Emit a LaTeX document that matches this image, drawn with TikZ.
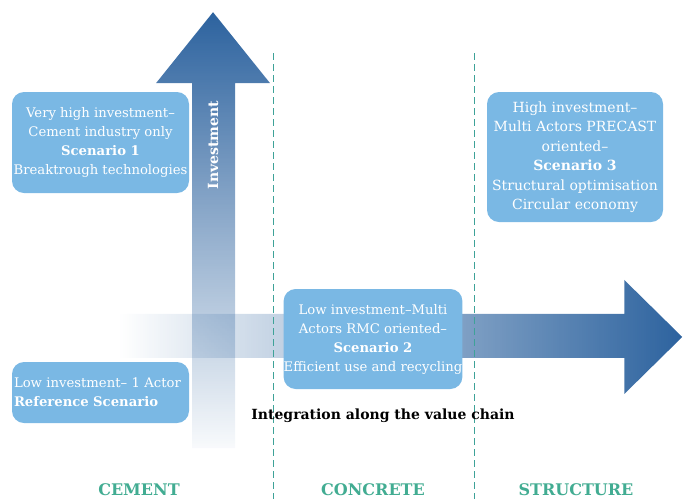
\documentclass[tikz,border=0pt]{standalone}
\usepackage{fontspec}
\setmainfont{DejaVu Serif}
\usetikzlibrary{fadings}
\usetikzlibrary{positioning}

\definecolor{boxblue}{RGB}{122,184,228}
\definecolor{arrowblue}{RGB}{44,98,158}
\definecolor{chainteal}{RGB}{66,172,146}
\definecolor{lineteal}{RGB}{62,162,152}

\tikzfading[name=fadeup,top color=transparent!0,middle color=transparent!30,bottom color=transparent!97]
\tikzfading[name=faderight,right color=transparent!0,middle color=transparent!45,left color=transparent!100]

\begin{document}
\begin{tikzpicture}[x=1pt,y=-1pt,
  scenbox/.style={fill=boxblue,text=white,rounded corners=12pt,inner sep=0pt,align=center,font=\fontsize{13.2}{19}\selectfont},
  column/.style={text=chainteal,font=\fontsize{16}{18}\selectfont\bfseries},
  divider/.style={lineteal,thin,dash pattern=on 7pt off 4pt}]
  \useasboundingbox (0,0) rectangle (683,499);
  %axes
  \fill[arrowblue,path fading=fadeup] (192,448) -- (192,83) -- (156,83) -- (213,12) -- (270,83) -- (235,83) -- (235,448) -- cycle;
  \fill[arrowblue,path fading=faderight] (120,314) -- (625,314) -- (625,280) -- (683,337) -- (625,394) -- (625,358) -- (120,358) -- cycle;
  %value chain dividers
  \coordinate (d1top) at (273,53);
  \coordinate (d1bot) at (273,499);
  \coordinate (d2top) at (474,53);
  \coordinate (d2bot) at (474,499);
  \draw[divider] (d1top) -- (d1bot);
  \draw[divider] (d2top) -- (d2bot);
  %scenarios
  \node[scenbox,minimum width=177pt,minimum height=101pt] (scen1) at (100.5,142.5) {Very high investment--\\Cement industry only\\\textbf{Scenario 1}\\Breaktrough technologies};
  \node[scenbox,minimum width=176pt,minimum height=130pt,font=\fontsize{14}{19.5}\selectfont] (scen3) at (575,157) {High investment--\\Multi Actors PRECAST\\oriented--\\\textbf{Scenario 3}\\Structural optimisation\\Circular economy};
  \node[scenbox,minimum width=176pt,minimum height=100pt] (scen2) at (373,339) {Low investment--Multi\\Actors RMC oriented--\\\textbf{Scenario 2}\\Efficient use and recycling};
  \node[scenbox,align=left,text width=173pt,minimum height=61pt,inner xsep=2pt] (scenref) at (100.5,392.5) {Low investment-- 1 Actor\\\textbf{Reference Scenario}};
  %axis labels
  \node[text=white,rotate=90,font=\fontsize{14}{16}\selectfont\bfseries] (invlabel) at (213,145) {Investment};
  \node[font=\fontsize{14}{16}\selectfont\bfseries] (chainlabel) at (383,416) {Integration along the value chain};
  %columns
  \node[column] (cement) at (139,490) {CEMENT};
  \node[column] (concrete) at (373,490) {CONCRETE};
  \node[column] (structure) at (576,490) {STRUCTURE};
\end{tikzpicture}
\end{document}
